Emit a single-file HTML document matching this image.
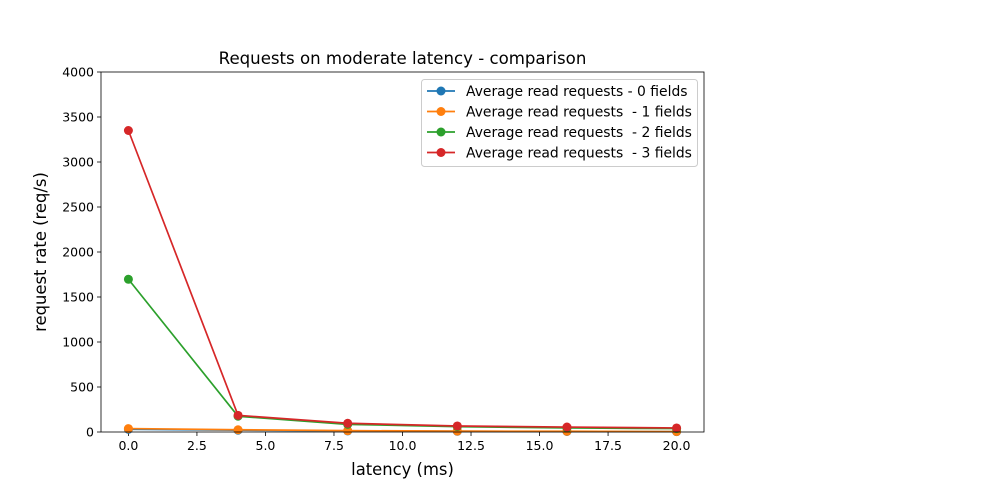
<!DOCTYPE html>
<html><head><meta charset="utf-8"><style>
body{margin:0;background:#fff;}
svg text{font-family:"DejaVu Sans","Liberation Sans",sans-serif;fill:#000;}
</style></head><body>
<svg id="chart" width="1006" height="480" xmlns="http://www.w3.org/2000/svg">
<rect width="1006" height="480" fill="#fff"/>
<g id="plot"></g>
</svg>
<script>
const xValues=[0,4,8,12,16,20];
const series0=[30,20,12,8,6,4];
const series1=[38,25,15,10,8,5];
const series2=[1697,175,85,60,45,38];
const series3=[3350,185,97,67,55,45];
const seriesNames=["Average read requests - 0 fields","Average read requests  - 1 fields","Average read requests  - 2 fields","Average read requests  - 3 fields"];
const xTicks=[0,2.5,5,7.5,10,12.5,15,17.5,20];
const xTickLabels=["0.0","2.5","5.0","7.5","10.0","12.5","15.0","17.5","20.0"];
const yTicks=[0,500,1000,1500,2000,2500,3000,3500,4000];

const colors=["#1f77b4","#ff7f0e","#2ca02c","#d62728"];
const L=101,R=704,T=72,B=432;
const sx=v=>L+(v-(-1))/(22)*(R-L);
const sy=v=>B-v/4000*(B-T);
const NS="http://www.w3.org/2000/svg";
const g=document.getElementById('plot');
function mk(tag,attrs,text){const e=document.createElementNS(NS,tag);for(const k in attrs)e.setAttribute(k,attrs[k]);if(text!==undefined)e.textContent=text;g.appendChild(e);return e;}

xTicks.forEach((t,i)=>{
 const x=sx(t);
 const tk=mk('line',{x1:x,x2:x,y1:B,y2:B+4,stroke:'#000','stroke-width':0.8});
 
 
 const lb=mk('text',{x:x,y:B+18,'font-size':12.5,'text-anchor':'middle'},xTickLabels[i]);
 
 
});
yTicks.forEach(t=>{
 const y=sy(t);
 const tk=mk('line',{x1:L-4,x2:L,y1:y,y2:y,stroke:'#000','stroke-width':0.8});
 
 
 const lb=mk('text',{x:L-7,y:y+4.5,'font-size':12.5,'text-anchor':'end'},String(t));
 
 
});

const all=[series0,series1,series2,series3];
all.forEach((s,si)=>{
 const pts=s.map((v,i)=>sx(xValues[i])+','+sy(v)).join(' ');
 const pl=mk('polyline',{points:pts,fill:'none',stroke:colors[si],'stroke-width':1.7});
 
 
 s.forEach((v,i)=>{
  const c=mk('circle',{cx:sx(xValues[i]),cy:sy(v),r:4.5,fill:colors[si]});
  
  
 });
});

const frame=mk('rect',{x:L,y:T,width:R-L,height:B-T,fill:'none',stroke:'#000','stroke-width':0.8});



const title=mk('text',{x:(L+R)/2,y:64,'font-size':16.6,'text-anchor':'middle'},'Requests on moderate latency - comparison');


const xt=mk('text',{x:(L+R)/2,y:475,'font-size':16.4,'text-anchor':'middle'},'latency (ms)');


const yt=mk('text',{x:0,y:0,'font-size':16.4,'text-anchor':'middle',transform:'translate(46,252) rotate(-90)'},'request rate (req/s)');



const lg=mk('rect',{x:421.5,y:79.5,width:276,height:87,rx:3,fill:'#fff','fill-opacity':0.8,stroke:'#ccc','stroke-width':1});


seriesNames.forEach((n,i)=>{
 const y=91+i*20.5;
 const ln=mk('line',{x1:427,x2:455,y1:y,y2:y,stroke:colors[i],'stroke-width':1.7});
 
 
 const c=mk('circle',{cx:441,cy:y,r:4.5,fill:colors[i]});
 
 
 const t=mk('text',{x:466,y:y+4.8,'font-size':13.9,'xml:space':'preserve'},n);
 t.setAttribute('style','white-space:pre');
 
 
});
</script>
</body></html>
